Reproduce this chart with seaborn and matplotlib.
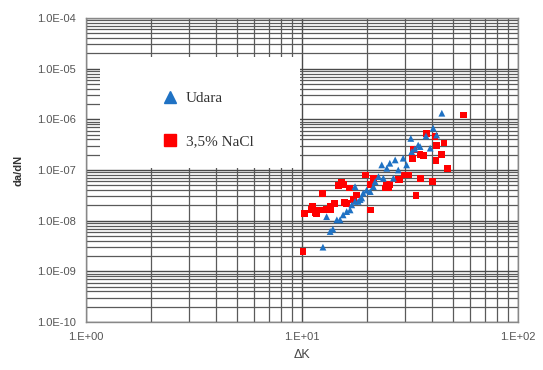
import seaborn as sns
import pandas as pd
import numpy as np
import matplotlib.pyplot as plt
from matplotlib.lines import Line2D
from matplotlib.patches import Rectangle

# Udara (air) - blue triangles
udara_dk = [12.5, 13.5, 13.9, 13.0, 14.5, 15.0, 15.5, 16.1, 16.7, 17.0,
            17.6, 18.2, 18.9, 19.2, 19.9, 20.7, 21.4, 21.8, 22.6, 17.6,
            23.8, 23.4, 24.7, 25.5, 27.0, 27.9, 29.4, 30.5, 26.5, 32.2,
            33.3, 34.5, 31.9, 35.2, 39.2, 37.5, 40.5, 42.0, 44.4, 18.6]
udara_dadn = [3.0e-9, 6.1e-9, 6.8e-9, 1.2e-8, 1.04e-8, 1.04e-8, 1.3e-8, 1.51e-8, 1.63e-8, 2.05e-8,
              2.4e-8, 2.4e-8, 2.8e-8, 3.5e-8, 4.0e-8, 3.75e-8, 4.7e-8, 5.9e-8, 7.4e-8, 4.7e-8,
              6.9e-8, 1.26e-7, 1.08e-7, 1.36e-7, 1.58e-7, 1.0e-7, 1.71e-7, 1.26e-7, 6.9e-8, 2.3e-7,
              2.6e-7, 3.1e-7, 4.2e-7, 2.9e-7, 2.7e-7, 4.7e-7, 6.7e-7, 4.9e-7, 1.32e-6, 2.6e-8]

# 3,5% NaCl - red squares
nacl_dk = [10.1, 10.3, 11.0, 11.2, 11.5, 11.7, 12.1, 12.4, 12.5, 13.0,
           13.5, 13.6, 14.2, 14.7, 15.3, 15.5, 15.7, 16.1, 16.6, 17.3,
           17.9, 19.6, 20.7, 21.4, 24.7, 25.3, 28.4, 31.1, 32.5, 33.7,
           35.5, 36.5, 37.8, 40.3, 41.7, 42.0, 45.4, 44.4, 47.1, 55.8,
           41.3, 35.2, 32.8, 29.9, 27.9, 25.5, 24.2, 20.7]
nacl_dadn = [2.46e-9, 1.41e-8, 1.69e-8, 1.9e-8, 1.45e-8, 1.36e-8, 1.63e-8, 3.5e-8, 1.63e-8, 1.69e-8,
             1.63e-8, 1.9e-8, 2.2e-8, 4.9e-8, 5.6e-8, 5.1e-8, 2.3e-8, 2.2e-8, 4.4e-8, 2.6e-8,
             3.2e-8, 8.0e-8, 1.63e-8, 6.9e-8, 4.9e-8, 4.4e-8, 6.4e-8, 8.0e-8, 1.71e-7, 3.1e-8,
             6.9e-8, 1.9e-7, 5.3e-7, 5.9e-8, 1.53e-7, 3.0e-7, 3.4e-7, 2.0e-7, 1.08e-7, 1.22e-6,
             4.6e-7, 2.0e-7, 2.5e-7, 8.0e-8, 6.4e-8, 5.1e-8, 4.4e-8, 5.1e-8]

x_ticks = [1, 10, 100]
x_labels = ['1.E+00', '1.E+01', '1.E+02']
y_ticks = [1e-10, 1e-9, 1e-8, 1e-7, 1e-6, 1e-5, 1e-4]
y_labels = ['1.0E-10', '1.0E-09', '1.0E-08', '1.0E-07', '1.0E-06', '1.0E-05', '1.0E-04']

df_u = pd.DataFrame({'dK': udara_dk, 'dadN': udara_dadn})
df_n = pd.DataFrame({'dK': nacl_dk, 'dadN': nacl_dadn})

sns.set_style('white')
plt.rcParams['font.family'] = ['Liberation Sans', 'DejaVu Sans']

fig = plt.figure(figsize=(5.43, 3.70), dpi=100)
ax = fig.add_axes([86/543, 1-322/370, 432/543, 304/370])

sns.scatterplot(data=df_n, x='dK', y='dadN', marker='s', s=24, color='#ff0000',
                edgecolor='none', ax=ax, zorder=3)
sns.scatterplot(data=df_u, x='dK', y='dadN', marker='^', s=24, color='#1f72c4',
                edgecolor='none', ax=ax, zorder=4)

ax.set_xscale('log')
ax.set_yscale('log')
ax.set_xlim(1, 100)
ax.set_ylim(1e-10, 1e-4)
ax.set_xticks(x_ticks)
ax.set_xticklabels(x_labels)
ax.set_yticks(y_ticks)
ax.set_yticklabels(y_labels)

ax.set_axisbelow(True)
ax.grid(True, which='major', color='#4a4a4a', lw=1.0)
ax.grid(True, which='minor', color='#5a5a5a', lw=0.9)
ax.tick_params(which='minor', length=0)
ax.tick_params(which='major', length=4, color='#777777', labelsize=8, labelcolor='#555555', pad=3)
for s in ax.spines.values():
    s.set_color('#888888')
    s.set_linewidth(1.0)

ax.set_xlabel('ΔK', fontsize=9, color='#444444', labelpad=5)
ax.set_ylabel('da/dN', fontsize=8, color='#333333', fontweight='bold', labelpad=10)

# white legend panel covering the grid
ax.add_patch(Rectangle((100/543, 1-168/370), 200/543, 111/370, transform=fig.transFigure,
                       facecolor='white', edgecolor='none', zorder=2))

handles = [Line2D([], [], marker='^', ls='none', color='#1f72c4', markersize=9),
           Line2D([], [], marker='s', ls='none', color='#ff0000', markersize=9)]
ax.legend(handles, ['Udara', '3,5% NaCl'], loc='upper left',
          bbox_to_anchor=(155/543, 1-84/370), bbox_transform=fig.transFigure,
          frameon=False, borderpad=0, handlelength=1.0, handletextpad=0.5,
          labelspacing=1.9, prop={'family': 'Liberation Serif', 'size': 11},
          labelcolor='#333333')

fig.savefig('out.png', dpi=100)
